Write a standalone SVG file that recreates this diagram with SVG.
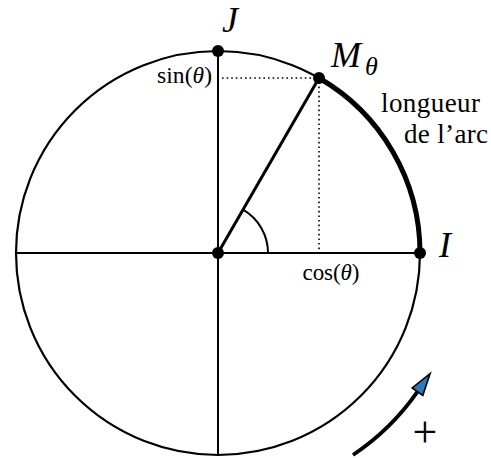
<svg xmlns="http://www.w3.org/2000/svg" width="491" height="458" viewBox="0 0 491 458">
<style>
.ln{fill:none;stroke:#000;stroke-linecap:butt}
.dot{fill:#000}
.dotted{fill:none;stroke:#000;stroke-width:1.6;stroke-dasharray:1.6 3}
.tx{font-family:"Liberation Serif","DejaVu Serif",serif;fill:#000}
.it{font-style:italic}
</style>
<rect width="491" height="458" fill="#fff"/>
<g id="circle">
<circle cx="218" cy="253" r="202" class="ln" stroke-width="2.2"/>
</g>
<g id="axes">
<line x1="16" y1="253" x2="420" y2="253" class="ln" stroke-width="2"/>
<line x1="218" y1="51" x2="218" y2="455" class="ln" stroke-width="2"/>
</g>
<g id="connectors">
<line x1="218" y1="253" x2="319" y2="78" class="ln" stroke-width="3"/>
<path d="M268,253 A50,50 0 0 0 243,209.7" class="ln" stroke-width="2"/>
<line x1="222" y1="78" x2="319" y2="78" class="dotted"/>
<line x1="319" y1="82" x2="319" y2="253" class="dotted"/>
<path id="arc-length" d="M319,78 A202,202 0 0 1 420,253" class="ln" stroke-width="5"/>
<path id="direction-arrow" d="M353,455 A243,243 0 0 0 417.5,391.7" class="ln" stroke-width="3.8"/>
<polygon points="430.1,373.6 412.2,388 422.8,395.4" fill="#2b7bbf" stroke="#000" stroke-width="1.6" stroke-linejoin="miter"/>
</g>
<g id="node-O"><circle cx="218" cy="253" r="6" class="dot"/></g>
<g id="node-I"><circle cx="420" cy="253" r="6" class="dot"/>
<text x="445" y="257" class="tx it" font-size="36" text-anchor="middle">I</text></g>
<g id="node-J"><circle cx="218" cy="51" r="6" class="dot"/>
<text x="230" y="32" class="tx it" font-size="36" text-anchor="middle">J</text></g>
<g id="node-M"><circle cx="319" cy="78" r="6" class="dot"/>
<text x="331" y="67" class="tx it" font-size="36" textLength="34">M</text>
<text x="365" y="75" class="tx it" font-size="26" textLength="16">θ</text></g>
<g id="label-sin"><text x="212" y="83" class="tx" font-size="23.5" text-anchor="end" textLength="55">sin(<tspan class="it">θ</tspan>)</text></g>
<g id="label-cos"><text x="331" y="280" class="tx" font-size="23" text-anchor="middle" textLength="57">cos(<tspan class="it">θ</tspan>)</text></g>
<g id="label-arc">
<text x="381" y="112" class="tx" font-size="27" textLength="99">longueur</text>
<text x="404" y="143" class="tx" font-size="27" textLength="84">de l’arc</text>
</g>
<g id="label-plus"><text x="425" y="447" class="tx" font-size="44" text-anchor="middle">+</text></g>
</svg>
